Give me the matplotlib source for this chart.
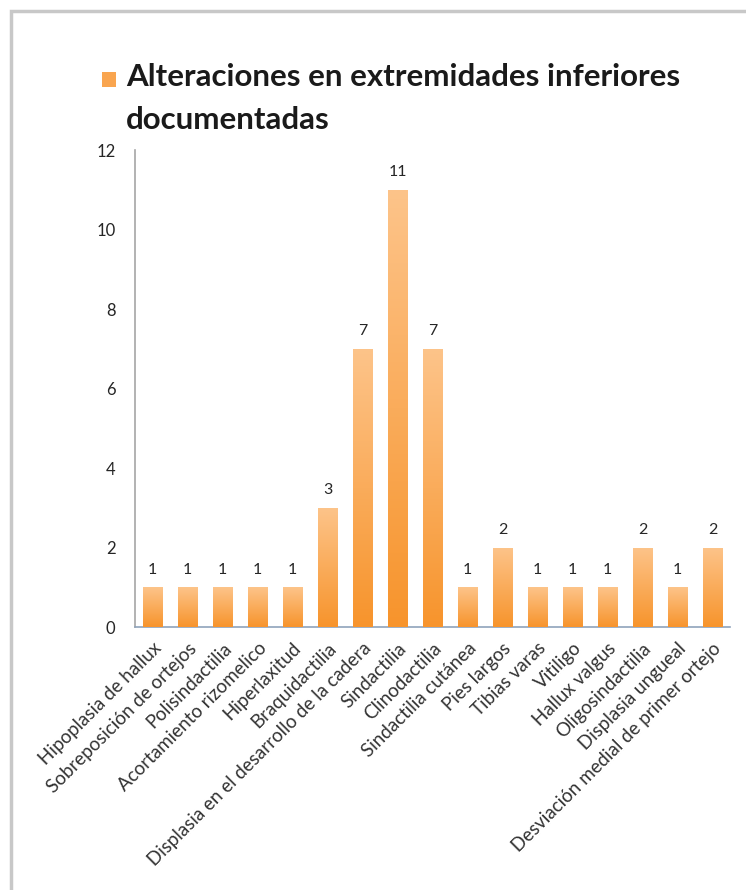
import numpy as np
import matplotlib
matplotlib.use('Agg')
import matplotlib.pyplot as plt
from matplotlib.patches import Rectangle
from matplotlib.colors import LinearSegmentedColormap

plt.rcParams['font.family'] = ['Lato', 'DejaVu Sans']

# data
categories = ['Hipoplasia de hallux', 'Sobreposición de ortejos', 'Polisindactilia',
              'Acortamiento rizomelico', 'Hiperlaxitud', 'Braquidactilia',
              'Displasia en el desarrollo de la cadera', 'Sindactilia', 'Clinodactilia',
              'Sindactilia cutánea', 'Pies largos', 'Tibias varas', 'Vitiligo',
              'Hallux valgus', 'Oligosindactilia', 'Displasia ungueal',
              'Desviación medial de primer ortejo']
values = [1, 1, 1, 1, 1, 3, 7, 11, 7, 1, 2, 1, 1, 1, 2, 1, 2]
y_ticks = [0, 2, 4, 6, 8, 10, 12]
series_name = 'Alteraciones en extremidades inferiores\ndocumentadas'

W, H = 746, 890
fig = plt.figure(figsize=(W / 100, H / 100), dpi=100)
fig.patch.set_facecolor('white')

# outer frame of the original chart (only top and left are visible)
fig.patches.append(Rectangle((11 / W, -0.2), 1.5, 1.2 - 11 / H,
                             transform=fig.transFigure, fill=False,
                             edgecolor='#c8c8c8', linewidth=2.5))

ax = fig.add_axes([135 / W, 1 - 627 / H, (730 - 135) / W, (627 - 150) / H])

x = np.arange(len(categories))
bar_w = 0.57
bars = ax.bar(x, values, width=bar_w, color='#f9a34e', edgecolor='none', zorder=2)

# vertical gradient on each bar (light top, darker bottom)
cmap = LinearSegmentedColormap.from_list('org', ['#f7942c', '#fdc48a'])
grad = np.linspace(0, 1, 256).reshape(-1, 1)
for b in bars:
    x0, y0 = b.get_x(), b.get_y()
    im = ax.imshow(grad, cmap=cmap, origin='lower', aspect='auto',
                   extent=[x0, x0 + b.get_width(), y0, y0 + b.get_height()], zorder=3)
    im.set_clip_path(b)

for xi, v in zip(x, values):
    ax.text(xi, v + 0.27, str(v), ha='center', va='bottom', fontsize=11.5, color='#262626')

ax.set_xlim(-0.5, len(categories) - 0.5)
ax.set_ylim(0, 12)
ax.set_yticks(y_ticks)
ax.set_yticklabels([str(t) for t in y_ticks], fontsize=12, color='#262626')
ax.set_xticks(x)
ax.set_xticklabels(categories, rotation=45, ha='right', rotation_mode='anchor',
                   fontsize=13.5, color='#333333')
ax.tick_params(axis='both', length=0)
ax.tick_params(axis='y', pad=14)
ax.tick_params(axis='x', pad=9)

for s in ['top', 'right']:
    ax.spines[s].set_visible(False)
ax.spines['left'].set_color('#a6a6a6')
ax.spines['bottom'].set_color('#8fa3bb')
ax.spines['left'].set_linewidth(1.2)
ax.spines['bottom'].set_linewidth(1.2)

# series legend at the top
fig.patches.append(Rectangle((102 / W, 1 - 87 / H), 14 / W, 15 / H,
                             transform=fig.transFigure, facecolor='#f9a54f',
                             edgecolor='none'))
fig.text(126 / W, 1 - 63 / H, series_name, ha='left', va='top', fontsize=22.5,
         fontweight='bold', color='#1a1a1a', linespacing=1.65)

fig.savefig('out.png', dpi=100, facecolor='white')
